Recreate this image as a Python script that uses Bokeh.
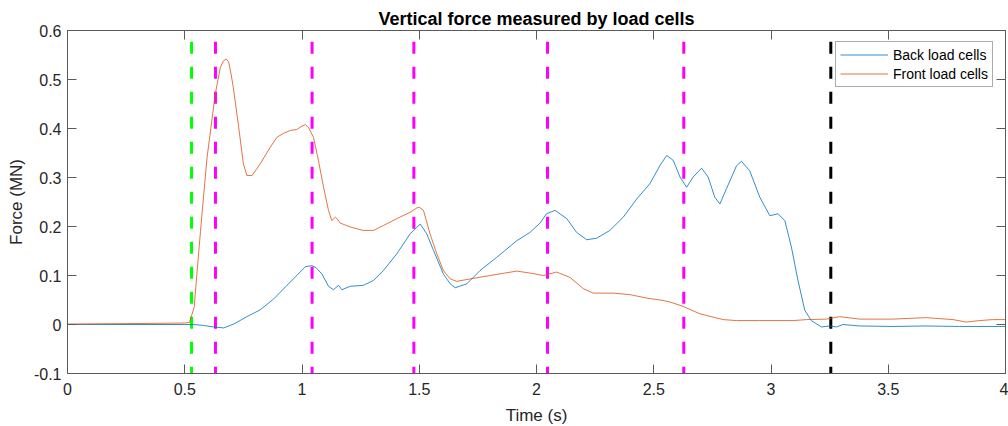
from bokeh.plotting import figure
from bokeh.models import LinearAxis, Range1d, Legend, LegendItem, FixedTicker, ColumnDataSource
from bokeh.embed import file_html
from bokeh.resources import INLINE

# ---------------- data ----------------
front_t = [0.00, 0.30, 0.50, 0.52, 0.54, 0.567, 0.595, 0.63, 0.652, 0.665, 0.677, 0.687, 0.698,
           0.707, 0.728, 0.75, 0.765, 0.787, 0.822, 0.865, 0.893, 0.92, 0.95, 0.978, 1.00,
           1.014, 1.028, 1.049, 1.07, 1.092, 1.113, 1.127, 1.142, 1.149, 1.163, 1.206, 1.261,
           1.305, 1.347, 1.404, 1.461, 1.49, 1.501, 1.518, 1.546, 1.575, 1.603, 1.632, 1.660,
           1.717, 1.802, 1.916, 1.972, 2.029, 2.086, 2.143, 2.20, 2.242, 2.327, 2.398, 2.469,
           2.540, 2.569, 2.625, 2.696, 2.796, 2.853, 2.952, 3.094, 3.151, 3.236, 3.293, 3.378,
           3.52, 3.662, 3.776, 3.833, 3.889, 3.945, 4.0]
front_f = [0.001, 0.002, 0.003, 0.004, 0.035, 0.19, 0.34, 0.47, 0.525, 0.538, 0.542, 0.536, 0.51,
           0.484, 0.41, 0.328, 0.304, 0.304, 0.328, 0.362, 0.382, 0.39, 0.396, 0.398, 0.405,
           0.408, 0.402, 0.382, 0.335, 0.28, 0.233, 0.212, 0.219, 0.216, 0.207, 0.199, 0.192,
           0.192, 0.202, 0.216, 0.229, 0.238, 0.239, 0.233, 0.185, 0.144, 0.110, 0.093, 0.088,
           0.093, 0.100, 0.109, 0.105, 0.100, 0.107, 0.096, 0.073, 0.064, 0.064, 0.061, 0.054,
           0.049, 0.046, 0.037, 0.022, 0.010, 0.008, 0.008, 0.008, 0.010, 0.011, 0.016, 0.011,
           0.011, 0.014, 0.010, 0.005, 0.008, 0.010, 0.010]

back_t = [0.00, 0.50, 0.538, 0.58, 0.623, 0.666, 0.709, 0.765, 0.822, 0.879, 0.936, 0.978, 1.014,
          1.042, 1.06, 1.085, 1.113, 1.134, 1.156, 1.170, 1.206, 1.262, 1.305, 1.347, 1.404,
          1.461, 1.504, 1.532, 1.561, 1.603, 1.632, 1.653, 1.703, 1.759, 1.830, 1.916, 1.972,
          2.015, 2.043, 2.079, 2.129, 2.171, 2.214, 2.256, 2.313, 2.370, 2.427, 2.483, 2.526,
          2.555, 2.583, 2.612, 2.640, 2.668, 2.704, 2.732, 2.760, 2.782, 2.810, 2.853, 2.874,
          2.909, 2.952, 2.995, 3.030, 3.059, 3.087, 3.115, 3.144, 3.172, 3.215, 3.250, 3.279,
          3.307, 3.378, 3.52, 3.662, 3.804, 4.0]
back_f = [0.000, 0.000, 0.000, -0.002, -0.005, -0.007, 0.001, 0.016, 0.030, 0.052, 0.080, 0.100, 0.118,
          0.120, 0.116, 0.103, 0.078, 0.071, 0.080, 0.071, 0.078, 0.080, 0.090, 0.110, 0.144,
          0.185, 0.205, 0.185, 0.151, 0.103, 0.083, 0.075, 0.083, 0.110, 0.137, 0.171, 0.188,
          0.207, 0.226, 0.233, 0.216, 0.188, 0.173, 0.176, 0.192, 0.219, 0.256, 0.287, 0.324,
          0.345, 0.335, 0.301, 0.280, 0.301, 0.319, 0.301, 0.260, 0.246, 0.277, 0.324, 0.333,
          0.314, 0.260, 0.222, 0.226, 0.212, 0.158, 0.090, 0.029, 0.008, -0.005, -0.003, -0.005,
          0.000, -0.003, -0.004, -0.003, -0.004, -0.004]

event_t = [0.529, 0.631, 1.043, 1.477, 2.047, 2.628, 3.255]
event_kind = ["start", "phase", "phase", "phase", "phase", "phase", "end"]

x_ticks = [0, 0.5, 1, 1.5, 2, 2.5, 3, 3.5, 4]
x_tick_labels = ["0", "0.5", "1", "1.5", "2", "2.5", "3", "3.5", "4"]
y_ticks = [-0.1, 0, 0.1, 0.2, 0.3, 0.4, 0.5, 0.6]
y_tick_labels = ["-0.1", "0", "0.1", "0.2", "0.3", "0.4", "0.5", "0.6"]

series_names = ["Back load cells", "Front load cells"]
title_text = "Vertical force measured by load cells"
x_label = "Time (s)"
y_label = "Force (MN)"

# ---------------- styling ----------------
FONT = "Liberation Sans"
AX = "#262626"
FRAME = "#5a5a5a"
BLUE = "#0072BD"
ORANGE = "#D95319"
kind_color = {"start": "#00FF00", "phase": "#FF00FF", "end": "#000000"}

p = figure(frame_width=938, frame_height=343,
           x_range=Range1d(0, 4), y_range=Range1d(-0.1, 0.6),
           output_backend="svg", toolbar_location=None,
           min_border_left=67, min_border_right=3, min_border_top=30, min_border_bottom=53,
           background_fill_color="white", border_fill_color="white")
p.grid.visible = False
p.outline_line_color = FRAME
p.outline_line_width = 1

p.title.text = title_text
p.title.align = "center"
p.title.text_font = FONT
p.title.text_font_size = "18px"
p.title.text_font_style = "bold"
p.title.text_color = "#000000"
p.title.standoff = 4


def style_axis(ax, ticks, labels, show_labels=True):
    ax.ticker = FixedTicker(ticks=ticks)
    ax.minor_tick_line_color = None
    ax.major_tick_in = 9
    ax.major_tick_out = 0
    ax.major_tick_line_color = FRAME
    ax.axis_line_color = FRAME
    ax.major_label_text_font = FONT
    if show_labels:
        ax.major_label_overrides = {t: l for t, l in zip(ticks, labels)}
        ax.major_label_text_font_size = "16px"
        ax.major_label_text_color = AX
    else:
        ax.major_label_text_font_size = "1px"
        ax.major_label_text_color = None
        ax.major_label_standoff = 0


style_axis(p.xaxis[0], x_ticks, x_tick_labels)
style_axis(p.yaxis[0], y_ticks, y_tick_labels)
p.xaxis[0].major_label_standoff = 9
p.yaxis[0].major_label_standoff = 6
p.xaxis[0].axis_label = x_label
p.yaxis[0].axis_label = y_label
for ax in (p.xaxis[0], p.yaxis[0]):
    ax.axis_label_text_font = FONT
    ax.axis_label_text_font_size = "17px"
    ax.axis_label_text_font_style = "normal"
    ax.axis_label_text_color = AX
p.xaxis[0].axis_label_standoff = 8
p.yaxis[0].axis_label_standoff = 5

top = LinearAxis()
right = LinearAxis()
style_axis(top, x_ticks, x_tick_labels, show_labels=False)
style_axis(right, y_ticks, y_tick_labels, show_labels=False)
p.add_layout(top, "above")
p.add_layout(right, "right")

# event dashed lines
ev_src = ColumnDataSource(dict(x=event_t, color=[kind_color[k] for k in event_kind]))
p.segment(x0="x", x1="x", y0=0.577, y1=-0.1, source=ev_src, line_color="color",
          line_width=3, line_dash="12 13", line_cap="butt")

r_back = p.line(back_t, back_f, line_color=BLUE, line_width=1, line_alpha=0.8)
r_front = p.line(front_t, front_f, line_color=ORANGE, line_width=1, line_alpha=0.8)

legend = Legend(items=[LegendItem(label=series_names[0], renderers=[r_back]),
                       LegendItem(label=series_names[1], renderers=[r_front])],
                location=(768, 286))
legend.label_text_font = FONT
legend.label_text_font_size = "14px"
legend.label_text_color = "#000000"
legend.glyph_width = 48
legend.glyph_height = 17
legend.label_height = 17
legend.label_standoff = 5
legend.spacing = 2
legend.padding = 4
legend.margin = 0
legend.border_line_color = FRAME
legend.border_line_width = 1
legend.background_fill_color = "white"
legend.background_fill_alpha = 1
p.add_layout(legend, "center")

open("out.html", "w").write(file_html(p, INLINE))
